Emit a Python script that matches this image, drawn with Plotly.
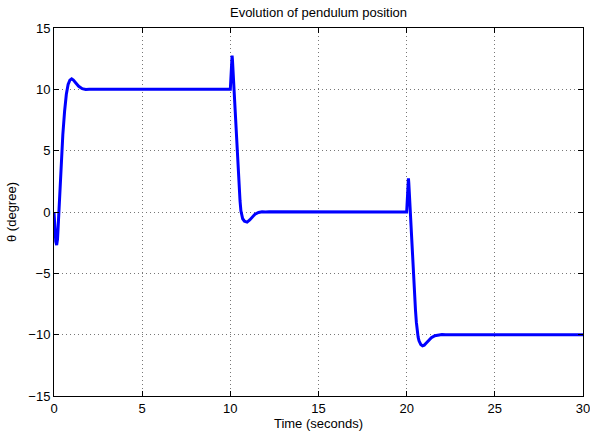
import plotly.graph_objects as go

# Segment 1: initial transient (t = 0 .. 10 s)
t_seg1 = [0, 0.05, 0.1, 0.15, 0.2, 0.25, 0.3, 0.35, 0.4, 0.45, 0.5, 0.6, 0.7, 0.8,
          0.9, 1.0, 1.1, 1.25, 1.4, 1.6, 1.8, 2.0, 2.2, 2.5, 10.0]
theta_seg1 = [0, -1.3, -2.4, -2.7, -2.2, -0.8, 0.9, 2.5, 3.9, 5.1, 6.3, 8.2, 9.6, 10.4,
              10.75, 10.85, 10.75, 10.5, 10.25, 10.05, 9.98, 10.0, 10.02, 10.0, 10.0]

# Segment 2: step at t = 10 s
t_seg2 = [10.02, 10.05, 10.08, 10.1, 10.12, 10.15, 10.2, 10.25, 10.3, 10.35, 10.4,
          10.45, 10.5, 10.55, 10.6, 10.65, 10.7, 10.8, 10.95, 11.1, 11.25, 11.4, 11.6,
          11.8, 12.0, 12.2, 20.0]
theta_seg2 = [10.8, 12.0, 12.7, 12.75, 12.4, 11.6, 10.2, 8.8, 7.4, 5.6, 4.2,
              3.0, 1.9, 0.9, 0.1, -0.35, -0.55, -0.75, -0.82, -0.65, -0.4, -0.18, -0.04,
              0.02, 0.0, 0.02, 0.0]

# Segment 3: step at t = 20 s
t_seg3 = [20.02, 20.05, 20.08, 20.1, 20.12, 20.15, 20.2, 20.25, 20.3, 20.35, 20.4,
          20.45, 20.5, 20.55, 20.6, 20.65, 20.7, 20.8, 20.9, 21.0, 21.1, 21.25, 21.4,
          21.6, 21.8, 22.0, 22.2, 30.0]
theta_seg3 = [0.8, 2.0, 2.7, 2.75, 2.4, 1.5, -0.2, -1.7, -3.1, -4.5, -5.8,
              -7.0, -8.0, -9.0, -9.7, -10.2, -10.5, -10.8, -10.9, -10.85, -10.7, -10.45, -10.25,
              -10.08, -10.0, -9.98, -10.0, -10.0]

x_ticks = [0, 5, 10, 15, 20, 25, 30]
y_ticks = [-15, -10, -5, 0, 5, 10, 15]

t_all = t_seg1 + t_seg2 + t_seg3
theta_all = theta_seg1 + theta_seg2 + theta_seg3

fig = go.Figure()
fig.add_trace(go.Scatter(x=t_all, y=theta_all, mode="lines",
                         line=dict(color="#0000FF", width=3), showlegend=False))

family = "Liberation Sans, Arial, Helvetica, sans-serif"
font = dict(family=family, size=13, color="black")
axis_common = dict(
    showline=True, linecolor="black", linewidth=1, mirror="ticks",
    ticks="inside", ticklen=5, tickcolor="black", tickwidth=1,
    showgrid=True, gridcolor="#777777", gridwidth=1, griddash="1px,3px",
    zeroline=False, tickfont=font, automargin=False, ticklabeloverflow="allow",
)
fig.update_xaxes(range=[0, 30], tickvals=x_ticks, ticktext=[str(v) for v in x_ticks],
                 title=dict(text="Time (seconds)", font=font, standoff=2), **axis_common)
fig.update_yaxes(range=[-15, 15], tickvals=y_ticks,
                 title=dict(text="θ (degree)", font=font, standoff=8), **axis_common)

fig.update_layout(
    width=590, height=440,
    margin=dict(l=54, r=7, t=28, b=44),
    paper_bgcolor="white", plot_bgcolor="white",
    font=font,
    title=dict(text="Evolution of pendulum position", x=318.5 / 590, xanchor="center",
               y=1 - 12 / 440, yanchor="middle", font=font),
)

fig.write_html("out.html", config={"displayModeBar": False},
               post_script="document.body.style.margin='0';")
